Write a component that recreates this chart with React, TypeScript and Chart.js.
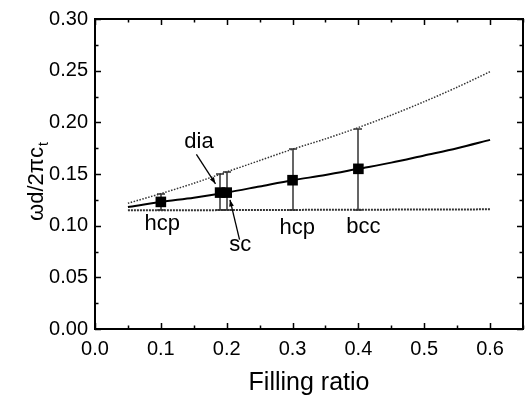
import React, { useEffect, useRef } from 'react';
import { Chart, registerables } from 'chart.js';

Chart.register(...registerables);

// Filling ratio grid of the computed curves
const curveX = [0.05, 0.1, 0.15, 0.2, 0.25, 0.3, 0.35, 0.4, 0.45, 0.5, 0.55, 0.6];
const centralCurve = [0.118, 0.123, 0.127, 0.132, 0.138, 0.144, 0.149, 0.155, 0.161, 0.168, 0.175, 0.183];
const upperCurve = [0.1217, 0.131, 0.141, 0.152, 0.163, 0.174, 0.184, 0.195, 0.207, 0.22, 0.234, 0.249];
const lowerX = [0.05, 0.6];
const lowerCurve = [0.1148, 0.1158];

// Lattice data points with error bars
const latticeX = [0.1, 0.19, 0.2, 0.3, 0.4];
const latticeY = [0.123, 0.132, 0.132, 0.144, 0.155];
const errTop = [0.131, 0.15, 0.152, 0.174, 0.194];
const errBottom = [0.1147, 0.115, 0.115, 0.115, 0.115];

// Annotation labels
const labelText = ['hcp', 'dia', 'sc', 'hcp', 'bcc'];
const labelX = [0.102, 0.158, 0.2207, 0.307, 0.4076];
const labelY = [0.0955, 0.175, 0.0758, 0.0924, 0.0933];

// Arrows (from -> to) for dia and sc
const arrowFromX = [0.154, 0.2195];
const arrowFromY = [0.169, 0.0865];
const arrowToX = [0.183, 0.205];
const arrowToY = [0.1405, 0.125];

const xTitle = 'Filling ratio';
const yTitleMain = 'ωd/2πc';
const yTitleSub = 't';

const FONT = '"Liberation Sans", Arial, Helvetica, sans-serif';

const toPts = (xs: number[], ys: number[]) => xs.map((x, i) => ({ x, y: ys[i] }));

const decorPlugin = {
  id: 'decor',
  beforeDatasetsDraw(chart: any) {
    const { ctx, scales } = chart;
    const xs = scales.x, ys = scales.y;
    ctx.save();
    ctx.strokeStyle = '#333';
    ctx.lineWidth = 1.5;
    latticeX.forEach((xv, i) => {
      const px = Math.round(xs.getPixelForValue(xv));
      const pt = Math.round(ys.getPixelForValue(errTop[i]));
      const pb = Math.round(ys.getPixelForValue(errBottom[i]));
      ctx.beginPath();
      ctx.moveTo(px, pt); ctx.lineTo(px, pb);
      ctx.moveTo(px - 4, pt); ctx.lineTo(px + 4, pt);
      ctx.moveTo(px - 4, pb); ctx.lineTo(px + 4, pb);
      ctx.stroke();
    });
    ctx.restore();
  },
  afterDraw(chart: any) {
    const { ctx, scales, chartArea } = chart;
    const xs = scales.x, ys = scales.y;
    const { left, right, top, bottom } = chartArea;
    ctx.save();
    // frame
    ctx.strokeStyle = '#000';
    ctx.lineWidth = 2;
    ctx.strokeRect(left, top, right - left, bottom - top);
    // inward ticks
    ctx.lineWidth = 1.5;
    ctx.beginPath();
    xs.ticks.forEach((t: any, i: number) => {
      const px = Math.round(xs.getPixelForValue(t.value)) + 0.5;
      const len = i % 2 === 0 ? 6 : 3.5;
      ctx.moveTo(px, bottom); ctx.lineTo(px, bottom - len);
      ctx.moveTo(px, top); ctx.lineTo(px, top + len);
    });
    ys.ticks.forEach((t: any, i: number) => {
      const py = Math.round(ys.getPixelForValue(t.value)) + 0.5;
      const len = i % 2 === 0 ? 6 : 3.5;
      ctx.moveTo(left, py); ctx.lineTo(left + len, py);
      ctx.moveTo(right, py); ctx.lineTo(right - len, py);
    });
    ctx.stroke();

    // annotation labels
    ctx.fillStyle = '#000';
    ctx.font = `22px ${FONT}`;
    ctx.textAlign = 'center';
    ctx.textBaseline = 'alphabetic';
    labelText.forEach((s, i) => {
      ctx.fillText(s, xs.getPixelForValue(labelX[i]), ys.getPixelForValue(labelY[i]));
    });

    // arrows
    ctx.lineWidth = 1.3;
    arrowFromX.forEach((fx, i) => {
      const x1 = xs.getPixelForValue(fx), y1 = ys.getPixelForValue(arrowFromY[i]);
      const x2 = xs.getPixelForValue(arrowToX[i]), y2 = ys.getPixelForValue(arrowToY[i]);
      const ang = Math.atan2(y2 - y1, x2 - x1);
      ctx.beginPath();
      ctx.moveTo(x1, y1); ctx.lineTo(x2, y2);
      ctx.stroke();
      ctx.beginPath();
      ctx.moveTo(x2, y2);
      ctx.lineTo(x2 - 7 * Math.cos(ang - 0.35), y2 - 7 * Math.sin(ang - 0.35));
      ctx.lineTo(x2 - 7 * Math.cos(ang + 0.35), y2 - 7 * Math.sin(ang + 0.35));
      ctx.closePath();
      ctx.fill();
    });

    // y title with subscript
    ctx.save();
    ctx.translate(43, (top + bottom) / 2 + 8);
    ctx.rotate(-Math.PI / 2);
    ctx.font = `22px ${FONT}`;
    const w = ctx.measureText(yTitleMain).width;
    ctx.font = `14px ${FONT}`;
    const ws = ctx.measureText(yTitleSub).width;
    const start = -(w + ws) / 2;
    ctx.textAlign = 'left';
    ctx.font = `22px ${FONT}`;
    ctx.fillText(yTitleMain, start, 0);
    ctx.font = `14px ${FONT}`;
    ctx.fillText(yTitleSub, start + w + 1, 5);
    ctx.restore();
    ctx.restore();
  },
};

export default function App() {
  const ref = useRef<HTMLCanvasElement | null>(null);
  useEffect(() => {
    document.body.style.margin = '0';
    if (!ref.current) return;
    const chart = new Chart(ref.current, {
      type: 'scatter',
      data: {
        datasets: [
          {
            data: toPts(curveX, upperCurve),
            showLine: true,
            borderColor: '#333',
            borderWidth: 1.5,
            borderDash: [1.5, 1.5],
            pointRadius: 0,
            tension: 0.3,
          },
          {
            data: toPts(lowerX, lowerCurve),
            showLine: true,
            borderColor: '#333',
            borderWidth: 2,
            borderDash: [2, 1],
            pointRadius: 0,
          },
          {
            data: toPts(curveX, centralCurve),
            showLine: true,
            borderColor: '#000',
            borderWidth: 2,
            pointRadius: 0,
            tension: 0.3,
          },
          {
            data: toPts(latticeX, latticeY),
            showLine: false,
            pointStyle: 'rect',
            pointRadius: 7.5,
            backgroundColor: '#000',
            borderColor: '#000',
            borderWidth: 0,
          },
        ],
      },
      options: {
        responsive: false,
        animation: false,
        layout: { padding: { top: 15, right: 6, left: 0, bottom: 0 } },
        plugins: { legend: { display: false }, tooltip: { enabled: false } },
        scales: {
          x: {
            type: 'linear',
            min: 0,
            max: 0.65,
            grid: { display: false, drawTicks: false },
            border: { display: false },
            ticks: {
              stepSize: 0.05,
              autoSkip: false,
              maxRotation: 0,
              padding: 8,
              color: '#000',
              font: { family: FONT, size: 20 },
              callback: (v: any, i: number) => (i % 2 === 0 ? Number(v).toFixed(1) : ''),
            },
            title: {
              display: true,
              text: xTitle,
              color: '#000',
              font: { family: FONT, size: 25 },
              padding: { top: 0, bottom: 3 },
            },
            afterFit: (s: any) => { s.height = 72; },
          },
          y: {
            type: 'linear',
            min: 0,
            max: 0.3,
            grid: { display: false, drawTicks: false },
            border: { display: false },
            ticks: {
              stepSize: 0.025,
              autoSkip: false,
              padding: 7,
              color: '#000',
              font: { family: FONT, size: 20 },
              callback: (v: any, i: number) => (i % 2 === 0 ? Number(v).toFixed(2) : ''),
            },
            afterFit: (s: any) => { s.width = 95; },
          },
        },
      },
      plugins: [decorPlugin],
    });
    return () => chart.destroy();
  }, []);
  return <canvas ref={ref} width={531} height={401} style={{ display: 'block', width: 531, height: 401 }} />;
}
